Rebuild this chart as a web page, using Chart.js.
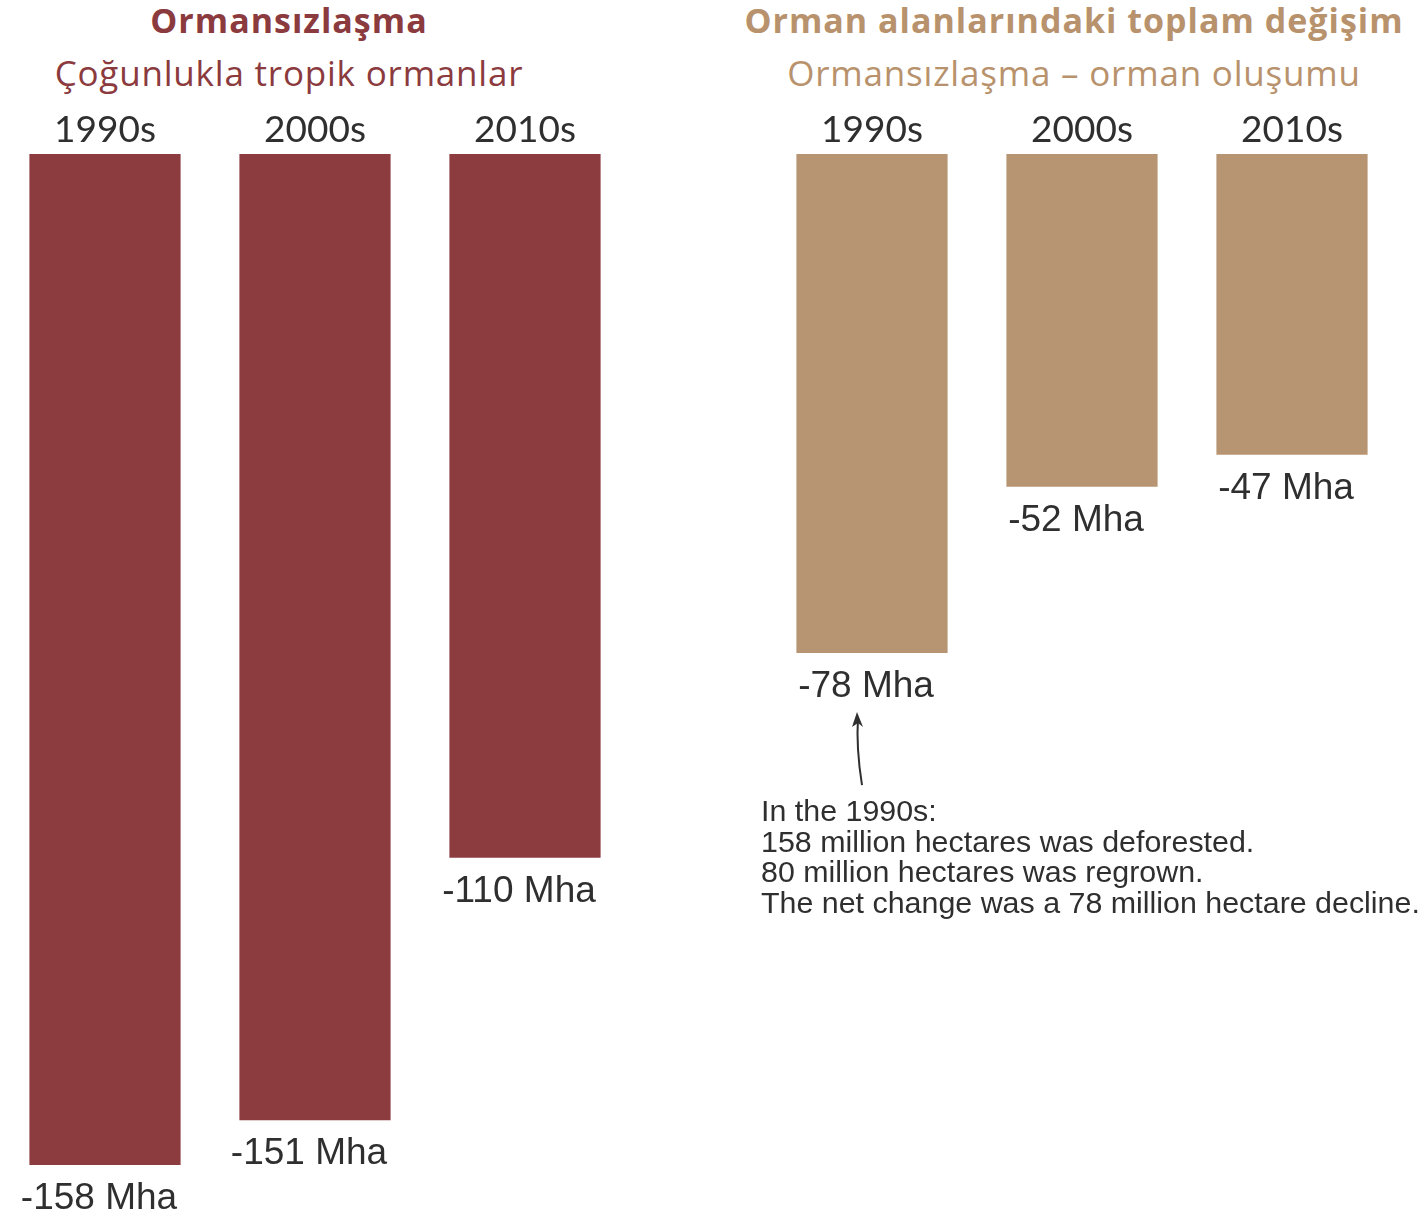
<!DOCTYPE html>
<html>
<head>
<meta charset="utf-8">
<script src="https://cdn.jsdelivr.net/npm/chart.js@4"></script>
<style>
  body { margin: 0; background: #fff; width: 1422px; height: 1217px; position: relative; overflow: hidden; }
  .panel { position: absolute; top: 0; width: 711px; height: 1217px; }
  .heading { position: absolute; white-space: nowrap; transform: translate(-50%, -50%); line-height: 1; font-family: "Open Sans", sans-serif; }
  .heading.main { font-weight: 700; font-size: 34px; letter-spacing: 1px; }
  .heading.sub { font-size: 35px; letter-spacing: 0.8px; }
</style>
</head>
<body>
<div class="heading main" style="left:289px; top:20px; color:#8b3a3e">Ormansızlaşma</div>
<div class="heading sub" style="left:289px; top:72px; color:#8b3a3e">Çoğunlukla tropik ormanlar</div>
<div class="heading main" style="left:1074px; top:20px; color:#b8926c">Orman alanlarındaki toplam değişim</div>
<div class="heading sub" style="left:1074px; top:72px; color:#b8926c">Ormansızlaşma – orman oluşumu</div>

<div class="panel" style="left:0"><canvas id="deforestation-chart"></canvas></div>
<div class="panel" style="left:711px"><canvas id="net-change-chart"></canvas></div>

<script>
const decades = ["1990s", "2000s", "2010s"];
const deforestation = [-158, -151, -110];
const netChange = [-78, -52, -47];

const noteLines = [
    "In the 1990s:",
    "158 million hectares was deforested.",
    "80 million hectares was regrown.",
    "The net change was a 78 million hectare decline."
];

// writes "-158 Mha" etc. under the end of each bar
const valueLabels = {
    id: "valueLabels",
    afterDatasetsDraw(chart) {
        const ctx = chart.ctx;
        const meta = chart.getDatasetMeta(0);
        const values = chart.data.datasets[0].data;
        ctx.save();
        ctx.font = "37px 'Liberation Sans', Arial, sans-serif";
        ctx.fillStyle = "#2f2f2f";
        ctx.textAlign = "center";
        ctx.textBaseline = "middle";
        meta.data.forEach((bar, i) => {
            ctx.fillText(values[i] + " Mha", bar.x - 6, bar.y + 34);
        });
        ctx.restore();
    }
};

// arrow and explanation under the first bar of the net change chart
const note = {
    id: "note",
    afterDatasetsDraw(chart) {
        const ctx = chart.ctx;
        const bar = chart.getDatasetMeta(0).data[0];
        const tipX = bar.x - 15;
        const tipY = bar.y + 59;
        ctx.save();
        ctx.strokeStyle = "#2f2f2f";
        ctx.fillStyle = "#2f2f2f";
        ctx.lineWidth = 2;
        ctx.beginPath();
        ctx.moveTo(tipX + 5, tipY + 73);
        ctx.quadraticCurveTo(tipX - 1, tipY + 35, tipX + 1, tipY + 6);
        ctx.stroke();
        ctx.beginPath();
        ctx.moveTo(tipX, tipY);
        ctx.lineTo(tipX - 5, tipY + 15);
        ctx.lineTo(tipX + 1, tipY + 11);
        ctx.lineTo(tipX + 6, tipY + 15);
        ctx.closePath();
        ctx.fill();

        ctx.font = "30.4px 'Liberation Sans', Arial, sans-serif";
        ctx.textAlign = "left";
        ctx.textBaseline = "middle";
        noteLines.forEach((line, i) => {
            ctx.fillText(line, bar.x - 111, tipY + 101 + i * 30.5);
        });
        ctx.restore();
    }
};

function makeChart(canvasId, values, color, padLeft, padRight, plugins) {
    return new Chart(document.getElementById(canvasId), {
        type: "bar",
        data: {
            labels: decades,
            datasets: [{
                data: values,
                backgroundColor: color,
                borderWidth: 0,
                categoryPercentage: 1,
                barPercentage: 0.72
            }]
        },
        options: {
            responsive: false,
            animation: false,
            layout: {
                padding: { top: 100, bottom: 52, left: padLeft, right: padRight }
            },
            plugins: {
                legend: { display: false },
                tooltip: { enabled: false }
            },
            scales: {
                x: {
                    position: "top",
                    grid: { display: false, drawTicks: false },
                    border: { display: false },
                    ticks: {
                        color: "#2f2f2f",
                        padding: 2,
                        font: { family: "Lato", size: 37 }
                    },
                    afterFit: (scale) => { scale.height = 54; }
                },
                y: {
                    display: false,
                    min: -158,
                    max: 0
                }
            }
        },
        plugins: plugins
    });
}

document.querySelectorAll("canvas").forEach(c => { c.width = 711; c.height = 1217; });

makeChart("deforestation-chart", deforestation, "#8c3b3f", 0, 81, [valueLabels]);
makeChart("net-change-chart", netChange, "#b89572", 56, 25, [valueLabels, note]);
</script>
</body>
</html>
